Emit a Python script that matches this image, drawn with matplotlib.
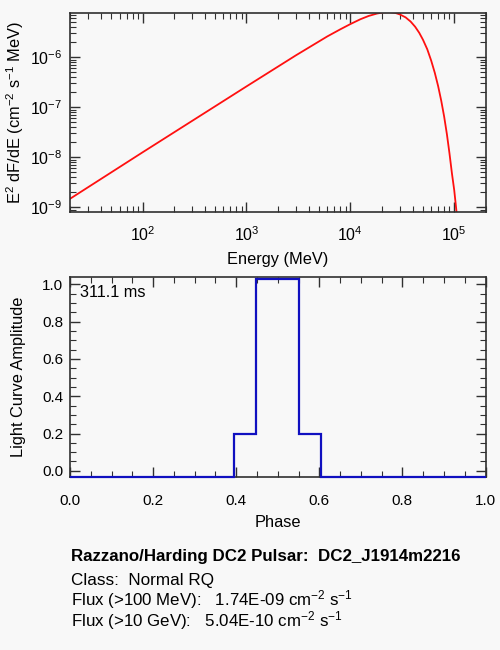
import matplotlib
matplotlib.use('Agg')
import matplotlib.pyplot as plt
from matplotlib.ticker import MultipleLocator, LogLocator, NullFormatter

# spectrum: energy (MeV) and E^2 dF/dE (cm^-2 s^-1 MeV)
energy_mev = [20, 100, 1000, 3000, 6000, 8000, 10000, 12500, 15000, 18000,
              21000, 24000, 27000, 30000, 34000, 38000, 42000, 46000, 50000, 55000,
              60000, 65000, 70000, 75000, 80000, 85000, 90000, 95000, 100000, 106000]
e2_dfde = [1.48e-9, 1.26e-8, 2.62e-7, 1.10e-6, 2.62e-6, 3.63e-6, 4.62e-6, 5.78e-6, 6.72e-6, 7.5e-6,
           7.95e-6, 8.0e-6, 7.75e-6, 7.2e-6, 6.3e-6, 5.2e-6, 4.1e-6, 3.1e-6, 2.25e-6, 1.45e-6,
           8.6e-7, 4.9e-7, 2.65e-7, 1.35e-7, 6.5e-8, 2.9e-8, 1.2e-8, 4.8e-9, 2.2e-9, 7.0e-10]

# light curve (step profile)
phase_edges = [0.0, 0.395, 0.448, 0.552, 0.605, 1.0]
amplitude = [-0.035, 0.2, 1.03, 0.2, -0.035]

period_label = '311.1 ms'
source_title = 'Razzano/Harding DC2 Pulsar:  DC2_J1914m2216'
source_class = 'Class:  Normal RQ'
flux_100mev = '1.74E-09'
flux_10gev = '5.04E-10'

BG = '#f8f8f8'
AXC = '#303030'

plt.rcParams['font.family'] = ['Liberation Sans', 'DejaVu Sans']
plt.rcParams['mathtext.fontset'] = 'custom'
plt.rcParams['mathtext.rm'] = 'Liberation Sans'
plt.rcParams['mathtext.it'] = 'Liberation Sans:italic'
plt.rcParams['mathtext.bf'] = 'Liberation Sans:bold'
plt.rcParams['axes.edgecolor'] = AXC
plt.rcParams['xtick.color'] = AXC
plt.rcParams['ytick.color'] = AXC
plt.rcParams['xtick.labelcolor'] = 'black'
plt.rcParams['ytick.labelcolor'] = 'black'

fig = plt.figure(figsize=(5, 6.5), dpi=100, facecolor=BG)


def style_ticks(ax, size, xpad, ypad):
    ax.set_facecolor(BG)
    ax.tick_params(which='both', direction='in', top=True, right=True, labelsize=size)
    ax.tick_params(which='major', length=7, width=1)
    ax.tick_params(which='minor', length=4, width=0.8)
    ax.tick_params(axis='x', which='both', pad=xpad)
    ax.tick_params(axis='y', which='both', pad=ypad)
    for s in ax.spines.values():
        s.set_linewidth(1.2)


# spectrum panel
ax1 = fig.add_axes([0.14, 0.6738, 0.831, 0.3062])
style_ticks(ax1, 11.5, 9.5, 5.5)
ax1.plot(energy_mev, e2_dfde, color='#ff1010', lw=1.3)
ax1.set_xscale('log')
ax1.set_yscale('log')
ax1.set_xlim(20, 2.0e5)
ax1.set_ylim(8.05e-10, 7.7e-6)
for axis in (ax1.xaxis, ax1.yaxis):
    axis.set_major_locator(LogLocator(base=10, numticks=20))
    axis.set_minor_locator(LogLocator(base=10, subs=range(2, 10), numticks=100))
    axis.set_minor_formatter(NullFormatter())
ax1.set_xlabel('Energy (MeV)', fontsize=11.8, labelpad=6)
ax1.set_ylabel(r'E$^2$ dF/dE (cm$^{-2}$ s$^{-1}$ MeV)', fontsize=11.8, labelpad=3)

# light curve panel
ax2 = fig.add_axes([0.14, 0.2657, 0.831, 0.3082])
style_ticks(ax2, 11, 12, 4.8)
ax2.stairs(amplitude, phase_edges, baseline=None, color='#1010c0', lw=1.6,
           clip_on=False, zorder=3)
ax2.set_xlim(0, 1)
ax2.set_ylim(-0.035, 1.04)
ax2.xaxis.set_major_locator(MultipleLocator(0.2))
ax2.xaxis.set_minor_locator(MultipleLocator(0.05))
ax2.yaxis.set_major_locator(MultipleLocator(0.2))
ax2.yaxis.set_minor_locator(MultipleLocator(0.05))
ax2.xaxis.set_major_formatter(lambda v, p: f'{v:.1f}')
ax2.yaxis.set_major_formatter(lambda v, p: f'{v:.1f}')
ax2.set_xlabel('Phase', fontsize=11.8, labelpad=5)
ax2.set_ylabel('Light Curve Amplitude', fontsize=11.8, labelpad=12)
ax2.text(0.025, 0.92, period_label, transform=ax2.transAxes, fontsize=11.7,
         ha='left', va='center')

# source info
fig.text(0.142, 1 - 556 / 650, source_title, fontsize=12.2, fontweight='bold',
         ha='left', va='center')
fig.text(0.142, 1 - 580 / 650, source_class, fontsize=12.3, ha='left', va='center')
fig.text(0.142, 1 - 600 / 650,
         'Flux (>100 MeV):   ' + flux_100mev + r' cm$^{-2}$ s$^{-1}$',
         fontsize=12.2, ha='left', va='center')
fig.text(0.142, 1 - 620.5 / 650,
         'Flux (>10 GeV):   ' + flux_10gev + r' cm$^{-2}$ s$^{-1}$',
         fontsize=12.2, ha='left', va='center')

fig.savefig('out.png', dpi=100, facecolor=BG)
